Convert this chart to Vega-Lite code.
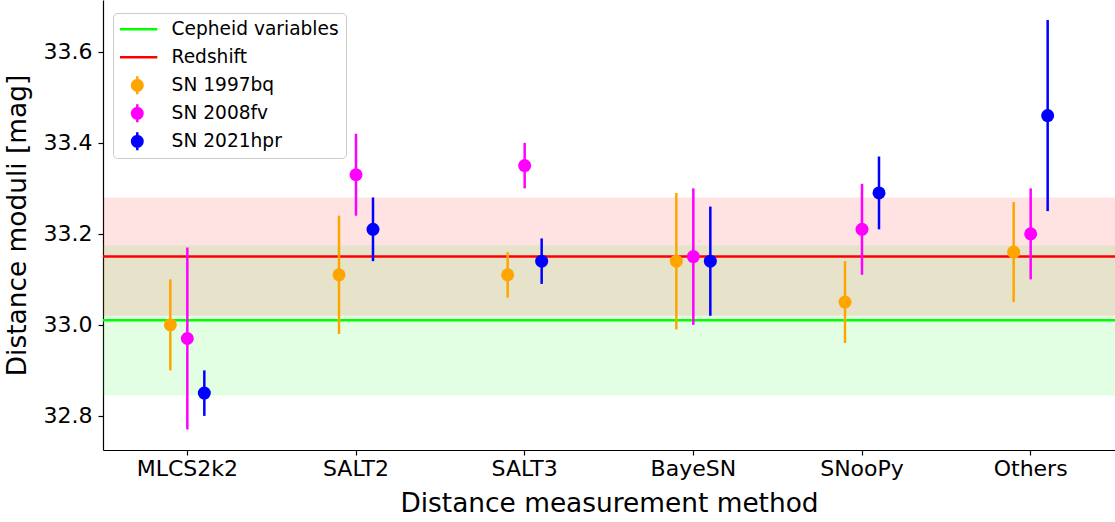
{
  "$schema": "https://vega.github.io/schema/vega-lite/v6.json",
  "width": 1012,
  "height": 450,
  "autosize": {"type": "none"},
  "padding": {"left": 103, "top": 0, "right": 0, "bottom": 72},
  "background": "white",
  "config": {
    "view": {"stroke": null},
    "font": "DejaVu Sans",
    "axis": {
      "domainColor": "black", "domainWidth": 1.2, "tickColor": "black", "tickWidth": 1.2, "tickSize": 5,
      "labelColor": "black", "labelFont": "DejaVu Sans", "labelFontSize": 22,
      "titleColor": "black", "titleFont": "DejaVu Sans", "titleFontSize": 26.4, "titleFontWeight": "normal",
      "grid": false
    }
  },
  "datasets": {
    "bands": [
      {"name": "Cepheid variables", "lo": 32.845, "hi": 33.175},
      {"name": "Redshift", "lo": 33.02, "hi": 33.28}
    ],
    "lines": [
      {"name": "Cepheid variables", "mu": 33.01},
      {"name": "Redshift", "mu": 33.15}
    ],
    "points": [
      {"method": "MLCS2k2", "name": "SN 1997bq", "mu": 33.00, "lo": 32.90, "hi": 33.10},
      {"method": "MLCS2k2", "name": "SN 2008fv", "mu": 32.97, "lo": 32.77, "hi": 33.17},
      {"method": "MLCS2k2", "name": "SN 2021hpr", "mu": 32.85, "lo": 32.80, "hi": 32.90},
      {"method": "SALT2", "name": "SN 1997bq", "mu": 33.11, "lo": 32.98, "hi": 33.24},
      {"method": "SALT2", "name": "SN 2008fv", "mu": 33.33, "lo": 33.24, "hi": 33.42},
      {"method": "SALT2", "name": "SN 2021hpr", "mu": 33.21, "lo": 33.14, "hi": 33.28},
      {"method": "SALT3", "name": "SN 1997bq", "mu": 33.11, "lo": 33.06, "hi": 33.16},
      {"method": "SALT3", "name": "SN 2008fv", "mu": 33.35, "lo": 33.30, "hi": 33.40},
      {"method": "SALT3", "name": "SN 2021hpr", "mu": 33.14, "lo": 33.09, "hi": 33.19},
      {"method": "BayeSN", "name": "SN 1997bq", "mu": 33.14, "lo": 32.99, "hi": 33.29},
      {"method": "BayeSN", "name": "SN 2008fv", "mu": 33.15, "lo": 33.00, "hi": 33.30},
      {"method": "BayeSN", "name": "SN 2021hpr", "mu": 33.14, "lo": 33.02, "hi": 33.26},
      {"method": "SNooPy", "name": "SN 1997bq", "mu": 33.05, "lo": 32.96, "hi": 33.14},
      {"method": "SNooPy", "name": "SN 2008fv", "mu": 33.21, "lo": 33.11, "hi": 33.31},
      {"method": "SNooPy", "name": "SN 2021hpr", "mu": 33.29, "lo": 33.21, "hi": 33.37},
      {"method": "Others", "name": "SN 1997bq", "mu": 33.16, "lo": 33.05, "hi": 33.27},
      {"method": "Others", "name": "SN 2008fv", "mu": 33.20, "lo": 33.10, "hi": 33.30},
      {"method": "Others", "name": "SN 2021hpr", "mu": 33.46, "lo": 33.25, "hi": 33.67}
    ]
  },
  "encoding": {
    "color": {
      "field": "name", "type": "nominal",
      "scale": {
        "domain": ["Cepheid variables", "Redshift", "SN 1997bq", "SN 2008fv", "SN 2021hpr"],
        "range": ["#00ff00", "#ff0000", "#ffa500", "#ff00ff", "#0000ff"]
      },
      "legend": {
        "title": null,
        "orient": "none", "legendX": 10, "legendY": 13,
        "fillColor": "white", "strokeColor": "#cccccc", "cornerRadius": 4, "padding": 7,
        "labelFont": "DejaVu Sans", "labelFontSize": 18.6, "labelColor": "black", "labelLimit": 400,
        "symbolSize": 196, "symbolStrokeWidth": 2.5, "symbolOffset": 8, "labelOffset": 25, "rowPadding": 9,
        "clipHeight": 18.6,
        "encode": {
          "symbols": {
            "update": {
              "shape": {"signal": "indexof(['Cepheid variables','Redshift'], datum.value) >= 0 ? 'M-2.86,0L2.86,0' : 'M0,-1.29L0,1.29M0.75,0C0.75,0.4142,0.4142,0.75,0,0.75C-0.4142,0.75,-0.75,0.4142,-0.75,0C-0.75,-0.4142,-0.4142,-0.75,0,-0.75C0.4142,-0.75,0.75,-0.4142,0.75,0Z'"},
              "fill": {"scale": "color", "field": "value"},
              "stroke": {"scale": "color", "field": "value"},
              "strokeWidth": {"value": 2.5},
              "opacity": {"value": 1},
              "fillOpacity": {"value": 1},
              "strokeOpacity": {"value": 1}
            }
          }
        }
      }
    }
  },
  "layer": [
    {
      "data": {"name": "bands"},
      "mark": {"type": "rect", "opacity": 0.11},
      "encoding": {
        "y": {"field": "lo", "type": "quantitative"},
        "y2": {"field": "hi"}
      }
    },
    {
      "data": {"name": "lines"},
      "mark": {"type": "rule", "strokeWidth": 2.5},
      "encoding": {
        "y": {"field": "mu", "type": "quantitative"}
      }
    },
    {
      "data": {"name": "points"},
      "mark": {"type": "rule", "strokeWidth": 2.5},
      "encoding": {
        "x": {"field": "method", "type": "nominal", "sort": ["MLCS2k2", "SALT2", "SALT3", "BayeSN", "SNooPy", "Others"]},
        "xOffset": {"field": "name", "type": "nominal"},
        "y": {"field": "lo", "type": "quantitative"},
        "y2": {"field": "hi"}
      }
    },
    {
      "data": {"name": "points"},
      "mark": {"type": "circle", "size": 169, "opacity": 1},
      "encoding": {
        "x": {
          "field": "method", "type": "nominal",
          "sort": ["MLCS2k2", "SALT2", "SALT3", "BayeSN", "SNooPy", "Others"],
          "scale": {"paddingInner": 0, "paddingOuter": 0},
          "axis": {"title": "Distance measurement method", "labelAngle": 0, "labelAlign": "center", "bandPosition": 0.5, "labelPadding": 13, "titlePadding": 11}
        },
        "xOffset": {
          "field": "name", "type": "nominal",
          "scale": {"domain": ["SN 1997bq", "SN 2008fv", "SN 2021hpr"], "range": [58.83, 109.83], "paddingInner": 0, "paddingOuter": 0}
        },
        "y": {
          "field": "mu", "type": "quantitative",
          "scale": {"domain": [32.725, 33.714], "nice": false, "zero": false},
          "axis": {"title": "Distance moduli [mag]", "values": [32.8, 33.0, 33.2, 33.4, 33.6], "format": ".1f", "labelPadding": 6, "titlePadding": 12}
        }
      }
    }
  ],
  "resolve": {"scale": {"x": "shared", "y": "shared", "xOffset": "shared"}}
}
